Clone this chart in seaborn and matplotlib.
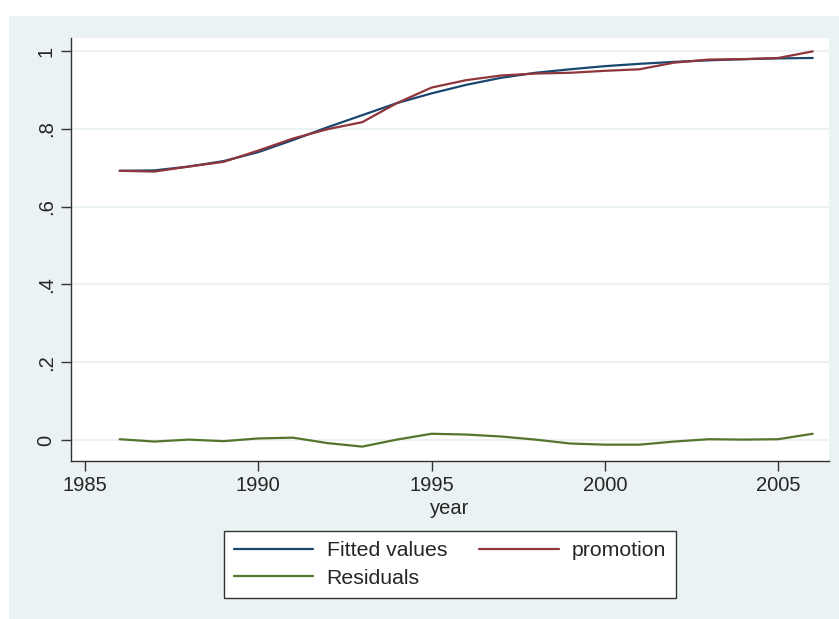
import matplotlib
matplotlib.use("Agg")
import matplotlib.pyplot as plt
import matplotlib.patches as mpatches
from matplotlib.lines import Line2D
import seaborn as sns
import pandas as pd

years = list(range(1986, 2007))
fitted = [0.692, 0.693, 0.703, 0.717, 0.740, 0.771, 0.804, 0.835, 0.866, 0.891, 0.913,
          0.931, 0.944, 0.953, 0.961, 0.967, 0.972, 0.976, 0.979, 0.981, 0.982]
promotion = [0.692, 0.690, 0.703, 0.715, 0.744, 0.775, 0.799, 0.817, 0.866, 0.906, 0.925,
             0.937, 0.942, 0.944, 0.949, 0.953, 0.970, 0.978, 0.979, 0.982, 0.999]
residuals = [0.002, -0.004, 0.001, -0.003, 0.004, 0.006, -0.008, -0.017, 0.001, 0.016, 0.014,
             0.009, 0.001, -0.009, -0.012, -0.012, -0.004, 0.002, 0.001, 0.002, 0.016]
series_names = ["Fitted values", "promotion", "Residuals"]
colors = ["#1a476f", "#90353b", "#55752f"]
yticks = [0, 0.2, 0.4, 0.6, 0.8, 1.0]
ytick_labels = ["0", ".2", ".4", ".6", ".8", "1"]
xticks = [1985, 1990, 1995, 2000, 2005]

df = pd.DataFrame({
    "year": years * 3,
    "value": fitted + promotion + residuals,
    "series": [series_names[0]] * len(years) + [series_names[1]] * len(years) + [series_names[2]] * len(years),
})

sns.set_style("white")
plt.rcParams["font.family"] = ["Liberation Sans", "DejaVu Sans"]

BG = "#eaf2f3"
W, H = 839, 619
fig = plt.figure(figsize=(W / 100, H / 100), dpi=100, facecolor=BG)
# white margins at top and left
fig.patches.append(mpatches.Rectangle((0, 1 - 16 / H), 1, 16 / H, transform=fig.transFigure,
                                      facecolor="white", edgecolor="none", zorder=0))
fig.patches.append(mpatches.Rectangle((0, 0), 9 / W, 1, transform=fig.transFigure,
                                      facecolor="white", edgecolor="none", zorder=0))

ax = fig.add_axes([71 / W, 1 - 461 / H, (829 - 71) / W, (461 - 38) / H])
ax.set_facecolor("white")

sns.lineplot(data=df, x="year", y="value", hue="series", palette=colors,
             hue_order=series_names, ax=ax, linewidth=1.6, legend=False)

ax.set_xlim(1984.596, 2006.47)
ax.set_ylim(-0.054, 1.0334)
ax.set_yticks(yticks)
ax.set_yticklabels(ytick_labels, rotation=90, va="center")
ax.set_xticks(xticks)
ax.set_xticklabels([str(x) for x in xticks])
ax.tick_params(axis="both", labelsize=14.5, length=7, width=1, color="#333333",
               direction="out", pad=4, left=True, bottom=True)
ax.grid(axis="y", color=BG, linewidth=1.5)
ax.grid(axis="x", visible=False)
ax.set_axisbelow(True)
for s in ["top", "right"]:
    ax.spines[s].set_visible(False)
for s in ["left", "bottom"]:
    ax.spines[s].set_color("#333333")
    ax.spines[s].set_linewidth(1)
ax.set_xlabel("year", fontsize=14.5, labelpad=3)
ax.set_ylabel("")

handles = [Line2D([], [], color=colors[0], lw=1.6),
           Line2D([], [], color=colors[2], lw=1.6),
           Line2D([], [], color=colors[1], lw=1.6)]
labels = [series_names[0], series_names[2], series_names[1]]
leg = fig.legend(handles, labels, loc="center", bbox_to_anchor=(450 / W, 1 - 564.5 / H),
                 ncol=2, fontsize=15.3, frameon=True, fancybox=False, edgecolor="#333333",
                 framealpha=1, handlelength=3.75, handletextpad=0.62, columnspacing=1.5,
                 labelspacing=0.4, borderpad=0.48)
leg.get_frame().set_linewidth(1)
leg.get_frame().set_facecolor("white")

fig.savefig("out.png", dpi=100, facecolor=BG)
